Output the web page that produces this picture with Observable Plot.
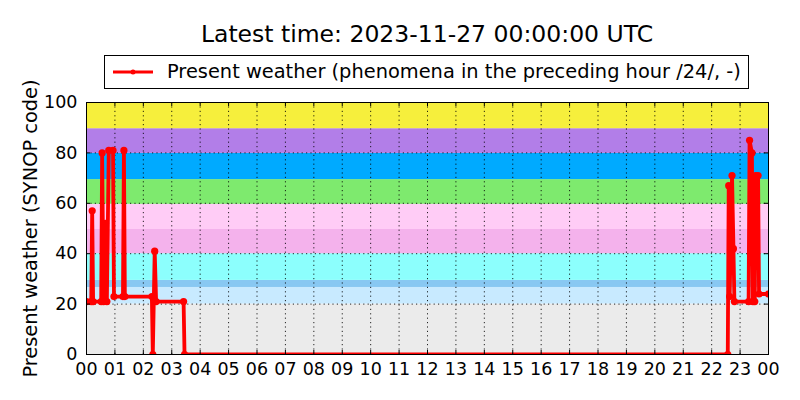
<!DOCTYPE html>
<html>
<head>
<meta charset="utf-8">
<script src="https://cdn.jsdelivr.net/npm/d3@7"></script>
<script src="https://cdn.jsdelivr.net/npm/@observablehq/plot@0.6"></script>
<style>
  html, body { margin: 0; padding: 0; background: #fff; }
  body { font-family: "DejaVu Sans", sans-serif; color: #000; }
  #wrap { width: 800px; height: 400px; overflow: hidden; }
  #head { position: relative; width: 800px; height: 92px; }
  #title { position: absolute; left: 27px; width: 800px; top: 20px; text-align: center; font-size: 23.5px; line-height: 28px; white-space: nowrap; }
  #legend { position: absolute; left: 104px; top: 55px; width: 643px; height: 32px; border: 1px solid #000; background: #fff; }
  #legend svg { position: absolute; left: 7px; top: 0; }
  #legend span { position: absolute; left: 62px; top: 0; line-height: 32px; font-size: 19.4px; white-space: nowrap; }
  #chart svg { overflow: visible; }
</style>
</head>
<body>
<div id="wrap">
  <div id="head">
    <div id="title">Latest time: 2023-11-27 00:00:00 UTC</div>
    <div id="legend">
      <svg width="42" height="32"><line x1="1" x2="41" y1="16" y2="16" stroke="#ff0000" stroke-width="3"/><circle cx="21" cy="16" r="2.5" fill="#ff0000"/></svg>
      <span>Present weather (phenomena in the preceding hour /24/, -)</span>
    </div>
  </div>
  <div id="chart"></div>
</div>
<script>
// Observation times (UTC, HH:MM on 2023-11-26) and present-weather SYNOP codes
const obsTimes = ["00:00","00:10","00:12","00:14","00:31","00:33","00:36","00:40","00:43","00:47","00:56","00:58",
  "01:17","01:19","01:21","02:18","02:20","02:24","02:27","03:25","03:27",
  "22:34","22:36","22:38","22:43","22:46","22:48","23:18","23:20","23:25","23:27","23:31","23:33","23:38","23:40","24:00"];
const obsValues = [21,21,57,21,21,80,21,52,21,81,81,23,
  23,81,23,23,0,41,21,21,0,
  0,67,23,71,42,21,21,85,80,21,21,71,71,24,24];

// Background code bands
const bandLow  = [0, 20, 26.6, 29.4, 40, 49.6, 59.6, 69.4, 79.8, 89.6];
const bandHigh = [20, 26.6, 29.4, 40, 49.6, 59.6, 69.4, 79.8, 89.6, 100];
const bandColors = ["#ebebeb","#c8eaff","#88c8f2","#8cfffd","#f4b2ec","#ffccf6","#7eea6e","#00aaff","#b27ee8","#f6ef3c"];

// Axis ticks
const xTicks = d3.range(0, 25);
const xGrid = d3.range(1, 24);
const yTicks = [0, 20, 40, 60, 80, 100];
const yGrid = [20, 40, 60, 80];
const yLabel = "Present weather (SYNOP code)";

const toHours = s => { const [h, m] = s.split(":").map(Number); return h + m / 60; };
const obs = obsTimes.map((t, i) => ({t: toHours(t), v: obsValues[i]}));
const bands = bandColors.map((c, i) => ({lo: bandLow[i], hi: bandHigh[i], c}));

const chart = Plot.plot({
  width: 800,
  height: 308,
  marginTop: 10,
  marginBottom: 46,
  marginLeft: 86,
  marginRight: 32,
  style: {fontFamily: "DejaVu Sans", fontSize: "17px", color: "#000", background: "transparent", overflow: "visible"},
  x: {domain: [0, 24], label: null},
  y: {domain: [0, 100], label: null},
  color: {type: "identity"},
  marks: [
    Plot.rect(bands, {x1: 0, x2: 24, y1: "lo", y2: "hi", fill: "c"}),
    Plot.ruleX(xGrid, {stroke: "#000", strokeWidth: 1, strokeDasharray: "1.2,3.2", strokeOpacity: 0.85}),
    Plot.ruleY(yGrid, {stroke: "#000", strokeWidth: 1, strokeDasharray: "1.2,3.2", strokeOpacity: 0.85}),
    Plot.line(obs, {x: "t", y: "v", stroke: "#ff0000", strokeWidth: 3.8, clip: true}),
    Plot.dot(obs, {x: "t", y: "v", r: 3.6, fill: "#ff0000", stroke: "none", clip: true}),
    // inward tick marks
    Plot.ruleX(xTicks, {y1: 0, y2: 0, insetTop: -4, stroke: "#000"}),
    Plot.ruleX(xTicks, {y1: 100, y2: 100, insetBottom: -4, stroke: "#000"}),
    Plot.ruleY(yTicks, {x1: 0, x2: 0, insetRight: -4, stroke: "#000"}),
    Plot.ruleY(yTicks, {x1: 24, x2: 24, insetLeft: -4, stroke: "#000"}),
    Plot.frame({stroke: "#000", strokeWidth: 1}),
    Plot.axisX({ticks: xTicks, tickSize: 0, tickPadding: 8, tickFormat: d => String(d % 24).padStart(2, "0"), fontSize: 17.5, label: null}),
    Plot.axisY({ticks: yTicks, tickSize: 0, tickPadding: 9, fontSize: 17.5, label: null}),
    Plot.text([yLabel], {frameAnchor: "left", text: d => d, rotate: -90, dx: -56, textAnchor: "middle", lineAnchor: "middle", fontSize: 19.4})
  ]
});
document.getElementById("chart").appendChild(chart);
</script>
</body>
</html>
